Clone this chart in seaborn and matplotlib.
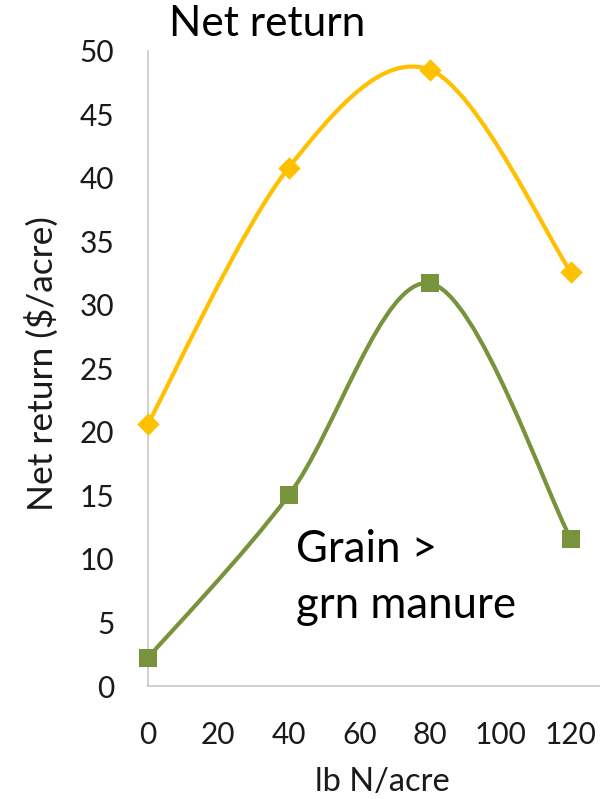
import numpy as np
import pandas as pd
import matplotlib
matplotlib.use("Agg")
import matplotlib.pyplot as plt
from matplotlib.path import Path
from matplotlib.patches import PathPatch
import seaborn as sns

# ---- data ----
n_rate = [0, 40, 80, 120]
net_total = [20.6, 40.8, 48.5, 32.6]      # gold diamonds
net_grain = [2.2, 15.0, 31.7, 11.6]       # green squares
x_ticks = [0, 20, 40, 60, 80, 100, 120]
y_ticks = [0, 5, 10, 15, 20, 25, 30, 35, 40, 45, 50]

title_text = "Net return"
x_label = "lb N/acre"
y_label = "Net return ($/acre)"
note_line1 = "Grain >"
note_line2 = "grn manure"

GOLD = "#FFC000"
GREEN = "#77933C"
AXIS_GRAY = "#C8C8C8"
TXT = "#1a1a1a"

sns.set_theme(style="white")
plt.rcParams["font.family"] = ["Lato", "DejaVu Sans"]

fig = plt.figure(figsize=(6.0, 7.99), dpi=100)
W, H = 600, 799
x0, x1 = 147.7, 600
y_top, y_bot = 50.7, 686
ax = fig.add_axes([x0 / W, 1 - y_bot / H, (x1 - x0) / W, (y_bot - y_top) / H])


def smooth_path(xs, ys):
    """Excel-style smoothed line as cubic Bezier segments (Catmull-Rom)."""
    pts = np.column_stack([xs, ys]).astype(float)
    n = len(pts)
    verts = [pts[0]]
    codes = [Path.MOVETO]
    for i in range(n - 1):
        p0 = pts[max(i - 1, 0)]
        p1 = pts[i]
        p2 = pts[i + 1]
        p3 = pts[min(i + 2, n - 1)]
        c1 = p1 + (p2 - p0) / 6.0
        c2 = p2 - (p3 - p1) / 6.0
        verts += [c1, c2, p2]
        codes += [Path.CURVE4] * 3
    return Path(verts, codes)


df = pd.DataFrame({"n": n_rate, "total": net_total, "grain": net_grain})

for col, color, marker, ms in [("total", GOLD, "D", 130), ("grain", GREEN, "s", 150)]:
    patch = PathPatch(smooth_path(df["n"], df[col]), facecolor="none",
                      edgecolor=color, lw=3.0, capstyle="round", joinstyle="round", zorder=2)
    ax.add_patch(patch)
    sns.scatterplot(data=df, x="n", y=col, ax=ax, marker=marker, s=ms,
                    color=color, edgecolor=color, linewidth=0, zorder=3,
                    legend=False, clip_on=False)

ax.set_xlim(0, 128.3)
ax.set_ylim(0, 50)
ax.set_xticks(x_ticks)
ax.set_yticks(y_ticks)
ax.set_xticklabels([str(v) for v in x_ticks])
ax.set_yticklabels([str(v) for v in y_ticks])

for s in ["top", "right"]:
    ax.spines[s].set_visible(False)
for s in ["left", "bottom"]:
    ax.spines[s].set_color(AXIS_GRAY)
    ax.spines[s].set_linewidth(1.2)

ax.tick_params(axis="both", which="major", direction="out", length=8, width=1.2,
               color=AXIS_GRAY, labelsize=21.5, labelcolor=TXT)
ax.tick_params(axis="y", pad=16)
ax.tick_params(axis="x", pad=17)
ax.grid(False)

ax.set_xlabel("")
ax.set_ylabel("")
fig.text(382 / W, 1 - 791 / H, x_label, ha="center", va="baseline", fontsize=23.5, color=TXT)
fig.text(53 / W, 1 - 364 / H, y_label, ha="center", va="baseline", rotation=90,
         rotation_mode="anchor", fontsize=25.5, color=TXT)
fig.text(169 / W, 1 - 36 / H, title_text, ha="left", va="baseline", fontsize=30.5, color="black")
fig.text(296 / W, 1 - 562 / H, note_line1, ha="left", va="baseline", fontsize=31.5, color="black")
fig.text(296 / W, 1 - 618 / H, note_line2, ha="left", va="baseline", fontsize=31.5, color="black")

fig.savefig("out.png", dpi=100)
